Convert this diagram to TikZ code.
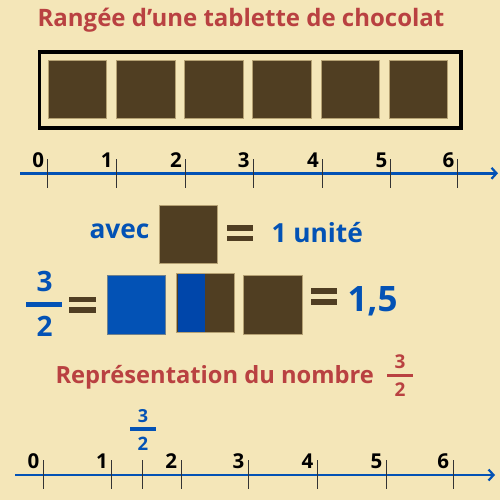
\documentclass[tikz,border=0pt]{standalone}
\usepackage{fontspec}
\setmainfont{Open Sans}
\usetikzlibrary{arrows.meta}
\definecolor{bg}{HTML}{F4E6B8}
\definecolor{titlered}{HTML}{B94141}
\definecolor{myblue}{HTML}{0352B5}
\definecolor{darkblue}{HTML}{0046AA}
\definecolor{choc}{HTML}{503E22}
\definecolor{edge}{HTML}{B5A173}
\definecolor{tick}{HTML}{333333}
\tikzset{
  txt/.style={inner sep=0pt, outer sep=0pt, font=\bfseries},
  choco/.style={fill=choc, draw=edge, line width=0.8pt},
  axisline/.style={draw=myblue, line width=2.6pt, -{Straight Barb[length=5pt,width=11pt,line width=2.2pt]}},
  tickmark/.style={draw=tick, line width=1pt},
  axlabel/.style={txt, anchor=base east, font=\bfseries\fontsize{20.5}{20}\selectfont},
  eqbar/.style={fill=choc},
}
\begin{document}
\begin{tikzpicture}[x=1pt,y=-1pt]
\fill[bg] (0,0) rectangle (500,500);
\useasboundingbox (0,0) rectangle (500,500);

% title
\node[txt, anchor=base, text=titlered, font=\bfseries\fontsize{24}{24}\selectfont] (title) at (241,27) {Rangée d’une tablette de chocolat};

% tablette
\draw[line width=3.6pt] (39.6,51.8) rectangle (460.8,128.2);
\foreach \i in {0,...,5}{
  \path[choco] ({48.3+68.15*\i},60) rectangle ++(58.5,58.3);
}

% number line 1
\coordinate (a1s) at (20,173.3);
\coordinate (a1e) at (498,173.3);
\draw[axisline] (a1s) -- (a1e);
\foreach \x/\n in {47.7/0,116/1,185.3/2,253/3,322.3/4,390.7/5,457.7/6}{
  \draw[tickmark] (\x,159.3) -- (\x,187.7);
  \node[axlabel] (l1-\n) at (\x-3.5,167.3) {\n};
}

% avec row
\node[txt, anchor=base west, text=myblue, font=\bfseries\fontsize{26.3}{26}\selectfont] (avec) at (89.5,238.5) {avec};
\path[choco] (159,205) rectangle (217.3,263.3);
\fill[eqbar] (227,225) rectangle (253.3,230.7);
\fill[eqbar] (227,235.7) rectangle (253.3,241);
\node[txt, anchor=base west, text=myblue, font=\bfseries\fontsize{26.3}{26}\selectfont] (unite) at (271.5,242) {1 unité};

% 3/2 row
\node[txt, anchor=base, text=myblue, font=\bfseries\fontsize{28}{28}\selectfont] (n1) at (44.5,291.7) {3};
\fill[myblue] (26,302) rectangle (62.3,306.5);
\node[txt, anchor=base, text=myblue, font=\bfseries\fontsize{28}{28}\selectfont] (d1) at (44.5,336.5) {2};
\fill[eqbar] (69,296.7) rectangle (95.7,302.3);
\fill[eqbar] (69,307.3) rectangle (95.7,313.3);
\path[fill=myblue, draw=edge!60!myblue, line width=0.6pt] (107,275) rectangle (165.7,334);
\path[choco] (176,273.3) rectangle (234.3,332.7);
\fill[darkblue] (177.5,273.7) rectangle (205,332.3);
\path[choco] (243.3,275) rectangle (302,334);
\fill[eqbar] (310.7,288.3) rectangle (337.3,294.3);
\fill[eqbar] (310.7,299) rectangle (337.3,305);
\node[txt, anchor=base west, text=myblue, font=\bfseries\fontsize{35}{35}\selectfont] (val) at (347.5,311.7) {1,5};

% Représentation
\node[txt, anchor=base west, text=titlered, font=\bfseries\fontsize{23.7}{24}\selectfont] (repr) at (55.5,383.3) {Représentation du nombre};
\node[txt, anchor=base, text=titlered, font=\bfseries\fontsize{19}{19}\selectfont] (n2) at (400,368.3) {3};
\fill[titlered] (386.7,374) rectangle (413.3,376.7);
\node[txt, anchor=base, text=titlered, font=\bfseries\fontsize{19}{19}\selectfont] (d2) at (400,396.7) {2};

% blue fraction on line
\node[txt, anchor=base, text=myblue, font=\bfseries\fontsize{18}{18}\selectfont] (n3) at (143,422.7) {3};
\fill[myblue] (130,427.3) rectangle (156,430.7);
\node[txt, anchor=base, text=myblue, font=\bfseries\fontsize{18.5}{18.5}\selectfont] (d3) at (143,450.7) {2};

% number line 2
\coordinate (a2s) at (15,475);
\coordinate (a2e) at (495,475);
\draw[axisline] (a2s) -- (a2e);
\draw[tickmark] (142.3,460) -- (142.3,489.3);
\foreach \x/\n in {43.3/0,111.7/1,181/2,248.3/3,317.3/4,386.3/5,453/6}{
  \draw[tickmark] (\x,460) -- (\x,489.3);
  \node[axlabel] (l2-\n) at (\x-4,468.3) {\n};
}
\end{tikzpicture}
\end{document}
